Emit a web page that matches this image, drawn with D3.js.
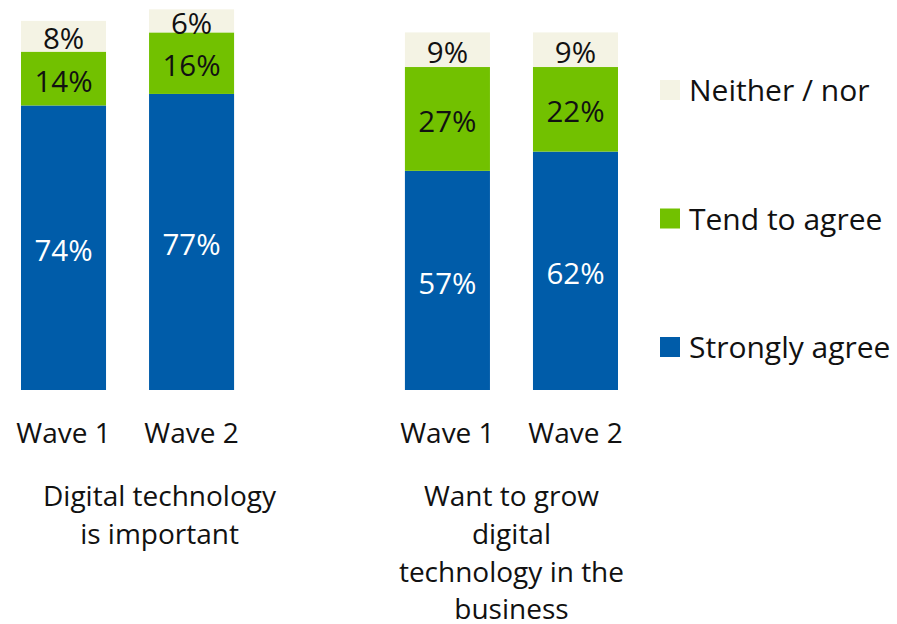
<!DOCTYPE html>
<html>
<head>
<meta charset="utf-8">
<script src="https://cdn.jsdelivr.net/npm/d3@7"></script>
<style>
  html, body { margin: 0; padding: 0; background: #fff; }
  svg text { font-family: "Open Sans", "Noto Sans", sans-serif; }
</style>
</head>
<body>
<svg id="chart" width="897" height="624"></svg>
<script>
// Survey answers, in percent, for each group and wave
const groups = ["Digital technology is important", "Want to grow digital technology in the business"];
const groupTitleLines = [
  ["Digital technology", "is important"],
  ["Want to grow", "digital", "technology in the", "business"]
];
const waves = ["Wave 1", "Wave 2"];
const seriesNames = ["Strongly agree", "Tend to agree", "Neither / nor"];
const stronglyAgree = [74, 77, 57, 62];
const tendToAgree = [14, 16, 27, 22];
const neitherNor = [8, 6, 9, 9];

const colors = { "Strongly agree": "#005CA9", "Tend to agree": "#72C100", "Neither / nor": "#F4F3E4" };
const labelColors = { "Strongly agree": "#ffffff", "Tend to agree": "#111111", "Neither / nor": "#111111" };

// Flatten to one row per bar
const rows = [];
groups.forEach((g, gi) => {
  waves.forEach((w, wi) => {
    const i = gi * waves.length + wi;
    rows.push({ group: g, wave: w,
      "Strongly agree": stronglyAgree[i],
      "Tend to agree": tendToAgree[i],
      "Neither / nor": neitherNor[i] });
  });
});

const svg = d3.select("#chart");
const fontSize = 28;
const valueFontSize = 29.5;
const legendFontSize = 30;

const x0 = d3.scaleBand().domain(groups).range([21, 618]).paddingInner(0.445).paddingOuter(0);
const x1 = d3.scaleBand().domain(waves).range([0, x0.bandwidth()]).paddingInner(0.336).paddingOuter(0);
const y = d3.scaleLinear().domain([0, 100]).range([390, 5.5]);

const stack = d3.stack().keys(seriesNames);
const layers = stack(rows);

const layerG = svg.append("g").selectAll("g")
  .data(layers)
  .join("g")
  .attr("fill", d => colors[d.key]);

layerG.selectAll("rect")
  .data(d => d.map(p => ({ key: d.key, p })))
  .join("rect")
  .attr("x", d => x0(d.p.data.group) + x1(d.p.data.wave))
  .attr("width", x1.bandwidth())
  .attr("y", d => y(d.p[1]))
  .attr("height", d => y(d.p[0]) - y(d.p[1]));

// Value labels centred in each segment
layerG.selectAll("text")
  .data(d => d.map(p => ({ key: d.key, p })))
  .join("text")
  .attr("x", d => x0(d.p.data.group) + x1(d.p.data.wave) + x1.bandwidth() / 2)
  .attr("y", d => (y(d.p[0]) + y(d.p[1])) / 2 + valueFontSize * 0.36 + 2.5)
  .attr("text-anchor", "middle")
  .attr("font-size", valueFontSize)
  .attr("fill", d => labelColors[d.key])
  .text(d => (d.p[1] - d.p[0]) + "%");

// Wave labels under each bar
svg.append("g").selectAll("text")
  .data(rows)
  .join("text")
  .attr("x", d => x0(d.group) + x1(d.wave) + x1.bandwidth() / 2)
  .attr("y", 443)
  .attr("text-anchor", "middle")
  .attr("font-size", fontSize)
  .attr("fill", "#111")
  .text(d => d.wave);

// Group titles
const titleDx = [32, 0];
const titleG = svg.append("g").selectAll("text")
  .data(groups)
  .join("text")
  .attr("text-anchor", "middle")
  .attr("font-size", fontSize)
  .attr("fill", "#111");
titleG.each(function (g, gi) {
  const cx = x0(g) + x0.bandwidth() / 2 + titleDx[gi];
  d3.select(this).selectAll("tspan")
    .data(groupTitleLines[gi])
    .join("tspan")
    .attr("x", cx)
    .attr("y", (d, li) => 506 + li * 37.8)
    .text(d => d);
});

// Legend, top entry first
const legendOrder = seriesNames.slice().reverse();
const legendY = d3.scalePoint().domain(legendOrder).range([80, 337]);
const legend = svg.append("g").selectAll("g")
  .data(legendOrder)
  .join("g")
  .attr("transform", d => `translate(660,${legendY(d)})`);
legend.append("rect")
  .attr("width", 20).attr("height", 20)
  .attr("fill", d => colors[d]);
legend.append("text")
  .attr("x", 29).attr("y", 21)
  .attr("font-size", legendFontSize)
  .attr("fill", "#111")
  .text(d => d);
</script>
</body>
</html>
